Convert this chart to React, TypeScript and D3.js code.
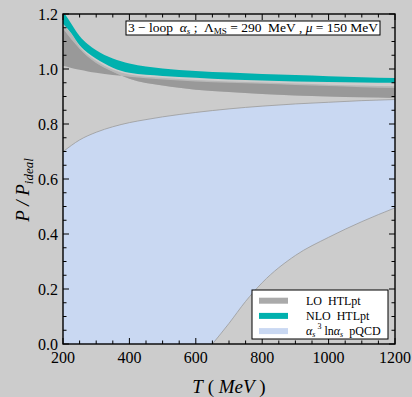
import { useEffect, useRef } from 'react';
import * as d3 from 'd3';

// temperature grid (MeV) for the HTLpt bands
const T_GRID = [200, 225, 250, 275, 300, 350, 400, 500, 600, 700, 800, 900, 1000, 1100, 1200];
const nloUpper = [1.21, 1.165, 1.12, 1.09, 1.068, 1.038, 1.02, 1.002, 0.993, 0.987, 0.982, 0.978, 0.974, 0.97, 0.967];
const nloLower = [1.165, 1.13, 1.086, 1.058, 1.037, 1.005, 0.986, 0.975, 0.968, 0.962, 0.958, 0.955, 0.953, 0.951, 0.95];
const loA = [1.148, 1.108, 1.074, 1.045, 1.022, 0.99, 0.965, 0.94, 0.925, 0.916, 0.909, 0.904, 0.9, 0.897, 0.895];
const loB = [1.012, 1.004, 0.997, 0.991, 0.986, 0.978, 0.972, 0.962, 0.955, 0.95, 0.946, 0.942, 0.938, 0.934, 0.931];
const loEdge = [1.158, 1.128, 1.082, 1.052, 1.03, 0.998, 0.98, 0.968, 0.96, 0.955, 0.951, 0.947, 0.943, 0.94, 0.937];

// pQCD band
const T_PQ = [200, 250, 300, 350, 400, 450, 500, 600, 700, 800, 900, 1000, 1100, 1200];
const pqUpper = [0.699, 0.742, 0.77, 0.79, 0.805, 0.816, 0.826, 0.842, 0.855, 0.865, 0.873, 0.879, 0.885, 0.889];
const T_PQ_LOW = [650, 700, 750, 800, 900, 1000, 1100, 1200];
const pqLower = [0, 0.075, 0.155, 0.223, 0.322, 0.388, 0.445, 0.495];

const xMajor = [200, 400, 600, 800, 1000, 1200];
const yMajor = [0, 0.2, 0.4, 0.6, 0.8, 1.0, 1.2];

const legendItems = ['LO', 'NLO', 'pQCD'];

export default function App() {
  const svgRef = useRef<SVGSVGElement>(null);

  useEffect(() => {
    if (!svgRef.current) return;
    const svg = d3.select(svgRef.current);
    svg.selectAll('*').remove();

    const W = 412, H = 397;
    const L = 63, R = 395, TOP = 14, B = 344;
    const x = d3.scaleLinear().domain([200, 1200]).range([L, R]);
    const y = d3.scaleLinear().domain([0, 1.2]).range([B, TOP]);
    const serif = 'Liberation Serif, Times New Roman, serif';
    const BG = '#cccccc';

    svg.append('rect').attr('width', W).attr('height', H).attr('fill', BG);

    svg.append('defs').append('clipPath').attr('id', 'plotClip')
      .append('rect').attr('x', L).attr('y', TOP).attr('width', R - L).attr('height', B - TOP);
    const g = svg.append('g').attr('clip-path', 'url(#plotClip)');

    const curve = d3.curveMonotoneX;

    // pQCD band: fill from upper edge down, then cover the region below the lower edge
    g.append('path')
      .attr('d', d3.area<number>().x((_, i) => x(T_PQ[i])).y0(y(0)).y1(d => y(d)).curve(curve)(pqUpper))
      .attr('fill', '#c9d8f2');
    g.append('path')
      .attr('d', d3.area<number>().x((_, i) => x(T_PQ_LOW[i])).y0(y(0)).y1(d => y(d)).curve(curve)(pqLower))
      .attr('fill', BG);
    g.append('path')
      .attr('d', d3.line<number>().x((_, i) => x(T_PQ[i])).y(d => y(d)).curve(curve)(pqUpper))
      .attr('fill', 'none').attr('stroke', '#9a9a9a').attr('stroke-width', 0.8);
    g.append('path')
      .attr('d', d3.line<number>().x((_, i) => x(T_PQ_LOW[i])).y(d => y(d)).curve(curve)(pqLower))
      .attr('fill', 'none').attr('stroke', '#9a9a9a').attr('stroke-width', 0.8);

    // LO HTLpt: light edge strip + dark band
    g.append('path')
      .attr('d', d3.area<number>().x((_, i) => x(T_GRID[i])).y0((_, i) => y(loA[i])).y1(d => y(d)).curve(curve)(loEdge))
      .attr('fill', '#b7b7b7');
    g.append('path')
      .attr('d', d3.area<number>().x((_, i) => x(T_GRID[i])).y0((_, i) => y(loB[i])).y1(d => y(d)).curve(curve)(loA))
      .attr('fill', '#999999');

    // NLO HTLpt
    g.append('path')
      .attr('d', d3.area<number>().x((_, i) => x(T_GRID[i])).y0((_, i) => y(nloLower[i])).y1(d => y(d)).curve(curve)(nloUpper))
      .attr('fill', '#00b1ae');

    // frame and ticks
    svg.append('rect').attr('x', L).attr('y', TOP).attr('width', R - L).attr('height', B - TOP)
      .attr('fill', 'none').attr('stroke', '#000').attr('stroke-width', 1.4);

    const ticks = svg.append('g').attr('stroke', '#000').attr('stroke-width', 1);
    d3.range(200, 1201, 50).forEach(v => {
      const len = v % 200 === 0 ? 6 : 3.5;
      ticks.append('line').attr('x1', x(v)).attr('x2', x(v)).attr('y1', B).attr('y2', B - len);
      ticks.append('line').attr('x1', x(v)).attr('x2', x(v)).attr('y1', TOP).attr('y2', TOP + len);
    });
    d3.range(0, 25).forEach(k => {
      const v = k * 0.05;
      const len = k % 4 === 0 ? 6 : 3.5;
      ticks.append('line').attr('x1', L).attr('x2', L + len).attr('y1', y(v)).attr('y2', y(v));
      ticks.append('line').attr('x1', R).attr('x2', R - len).attr('y1', y(v)).attr('y2', y(v));
    });

    svg.append('g').selectAll('text').data(xMajor).enter().append('text')
      .attr('x', d => x(d)).attr('y', 363).attr('text-anchor', 'middle')
      .attr('font-family', serif).attr('font-size', 16).attr('fill', '#000').text(d => d);
    svg.append('g').selectAll('text').data(yMajor).enter().append('text')
      .attr('x', 58).attr('y', d => y(d) + 5.5).attr('text-anchor', 'end')
      .attr('font-family', serif).attr('font-size', 16).attr('fill', '#000').text(d => d.toFixed(1));

    // axis titles
    const xt = svg.append('text').attr('x', 229).attr('y', 393).attr('text-anchor', 'middle')
      .attr('font-family', serif).attr('font-size', 19).attr('fill', '#000').style('white-space', 'pre');
    xt.append('tspan').attr('font-style', 'italic').text('T');
    xt.append('tspan').text(' ( ');
    xt.append('tspan').attr('font-style', 'italic').text('MeV');
    xt.append('tspan').text(' )');

    const yt = svg.append('text').attr('transform', 'translate(29,190) rotate(-90)').attr('text-anchor', 'middle')
      .attr('font-family', serif).attr('font-size', 19).attr('font-style', 'italic').attr('fill', '#000');
    yt.append('tspan').text('P / P');
    yt.append('tspan').attr('font-size', 13).attr('dy', 4).text('ideal');

    // parameter box
    svg.append('rect').attr('x', 126).attr('y', 21).attr('width', 254).attr('height', 14)
      .attr('fill', '#fff').attr('stroke', '#000').attr('stroke-width', 1);
    const tt = svg.append('text').attr('x', 128).attr('y', 32).attr('font-family', serif)
      .attr('font-size', 13.5).attr('fill', '#000').style('white-space', 'pre')
      .attr('textLength', 250).attr('lengthAdjust', 'spacing');
    tt.append('tspan').text('3 \u2212 loop  ');
    tt.append('tspan').attr('font-style', 'italic').text('\u03b1');
    tt.append('tspan').attr('font-size', 9).attr('font-style', 'italic').attr('dy', 2).text('s');
    tt.append('tspan').attr('dy', -2).text(' ;  \u039b');
    tt.append('tspan').attr('font-size', 9).attr('dy', 2).text('MS');
    tt.append('tspan').attr('dy', -2).text(' = 290  MeV , ');
    tt.append('tspan').attr('font-style', 'italic').text('\u03bc');
    tt.append('tspan').text(' = 150 MeV');

    // legend
    const lg = svg.append('g');
    lg.append('rect').attr('x', 252).attr('y', 290).attr('width', 136).attr('height', 49)
      .attr('fill', '#fff').attr('stroke', '#000').attr('stroke-width', 1);
    const swatch = ['#aaaaaa', '#00b1ae', '#c9d8f2'];
    legendItems.forEach((k, i) => {
      const cy = 300.7 + i * 15.2;
      lg.append('rect').attr('x', 259).attr('y', cy - 3).attr('width', 29).attr('height', 6).attr('fill', swatch[i]);
      const t = lg.append('text').attr('x', 306).attr('y', cy + 4).attr('font-family', serif)
        .attr('font-size', 12).attr('fill', '#000').style('white-space', 'pre');
      if (k === 'pQCD') {
        t.append('tspan').attr('font-style', 'italic').text('\u03b1');
        t.append('tspan').attr('font-style', 'italic').attr('font-size', 8).attr('dy', 2).text('s');
        t.append('tspan').attr('font-size', 8).attr('dy', -8).text(' 3');
        t.append('tspan').attr('dy', 6).text(' ln');
        t.append('tspan').attr('font-style', 'italic').text('\u03b1');
        t.append('tspan').attr('font-style', 'italic').attr('font-size', 8).attr('dy', 2).text('s');
        t.append('tspan').attr('dy', -2).text('  pQCD');
      } else {
        t.text(`${k}  HTLpt`);
      }
    });
  }, []);

  return (
    <svg ref={svgRef} width={412} height={397} viewBox="0 0 412 397"
      style={{ position: 'absolute', left: 0, top: 0, display: 'block' }} />
  );
}
